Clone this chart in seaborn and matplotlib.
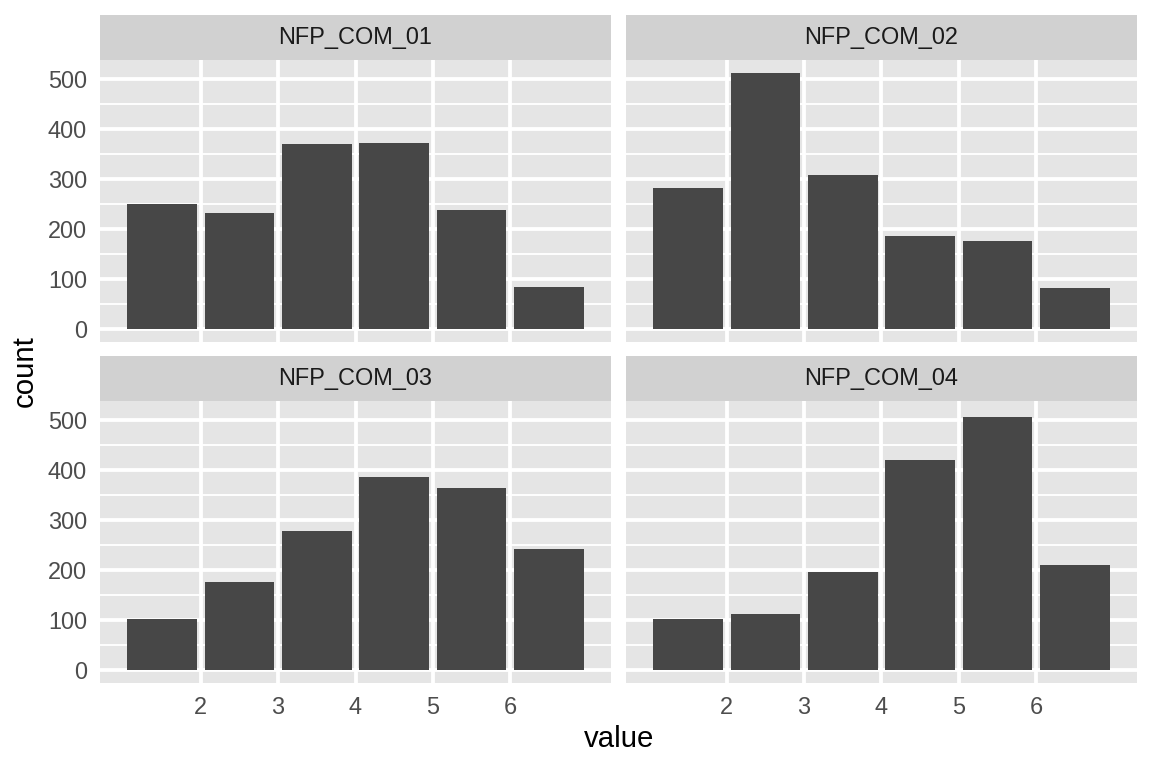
import numpy as np
import pandas as pd
import matplotlib
matplotlib.use("Agg")
import matplotlib.pyplot as plt
from matplotlib.patches import Rectangle
import seaborn as sns

# data
panels = ["NFP_COM_01", "NFP_COM_02", "NFP_COM_03", "NFP_COM_04"]
bin_centers = [1.5, 2.5, 3.5, 4.5, 5.5, 6.5]
counts_01 = [250, 232, 370, 372, 238, 84]
counts_02 = [282, 512, 308, 186, 176, 82]
counts_03 = [102, 176, 278, 386, 364, 242]
counts_04 = [102, 112, 196, 420, 505, 210]
x_ticks = [2, 3, 4, 5, 6]
y_ticks = [0, 100, 200, 300, 400, 500]
y_minor = [50, 150, 250, 350, 450]

df = pd.DataFrame({
    "variable": np.repeat(panels, len(bin_centers)),
    "value": bin_centers * len(panels),
    "count": counts_01 + counts_02 + counts_03 + counts_04,
})

bar_col = "#474747"
panel_col = "#E5E5E5"
strip_col = "#D1D1D1"

sns.set_theme(style="darkgrid", rc={
    "axes.facecolor": panel_col,
    "grid.color": "white",
    "xtick.color": "#333333",
    "ytick.color": "#333333",
    "xtick.labelcolor": "#4D4D4D",
    "ytick.labelcolor": "#4D4D4D",
})
plt.rcParams["font.family"] = ["Liberation Sans", "DejaVu Sans"]

g = sns.FacetGrid(df, col="variable", col_wrap=2, height=2, aspect=1.5,
                  sharex=True, sharey=True, despine=False)
g.map_dataframe(sns.histplot, x="value", weights="count", binwidth=1,
                binrange=(1, 7), shrink=0.9, color=bar_col, alpha=1,
                linewidth=0)
g.set_titles("")
g.set_axis_labels("", "")

lw_major = 1.42
for i, (ax, name) in enumerate(zip(g.axes.flat, panels)):
    ax.set_xlim(0.7, 7.3)
    ax.set_ylim(-25.6, 537.6)
    ax.set_xticks(x_ticks)
    ax.set_yticks(y_ticks)
    ax.set_yticks(y_minor, minor=True)
    ax.grid(which="major", color="white", linewidth=lw_major)
    ax.grid(which="minor", axis="y", color="white", linewidth=lw_major / 2)
    ax.set_axisbelow(True)
    for s in ax.spines.values():
        s.set_visible(False)
    ax.tick_params(which="major", length=2.75, width=lw_major, pad=2.2,
                   labelsize=8.8)
    ax.tick_params(which="minor", length=0)
    if i < 2:
        ax.tick_params(axis="x", length=0, labelbottom=False)
    if i % 2 == 1:
        ax.tick_params(axis="y", length=0, labelleft=False)
    # facet strip
    ax.add_patch(Rectangle((0, 1), 1, 45 / 282, transform=ax.transAxes,
                           facecolor=strip_col, edgecolor="none",
                           clip_on=False))
    ax.text(0.5, 1 + 22.5 / 282, name, transform=ax.transAxes,
            ha="center", va="center", fontsize=8.8, color="#1A1A1A")

fig = g.figure
fig.set_size_inches(6, 4)
fig.subplots_adjust(left=100 / 1152, right=1137 / 1152,
                    top=1 - 60 / 768, bottom=1 - 683 / 768,
                    wspace=15 / 511, hspace=59 / 282)
fig.text(619 / 1152, 1 - 739 / 768, "value", ha="center", va="center",
         fontsize=11, color="black")
fig.text(25 / 1152, 1 - 371.5 / 768, "count", ha="center", va="center",
         rotation=90, fontsize=11, color="black")
fig.savefig("out.png", dpi=192)
